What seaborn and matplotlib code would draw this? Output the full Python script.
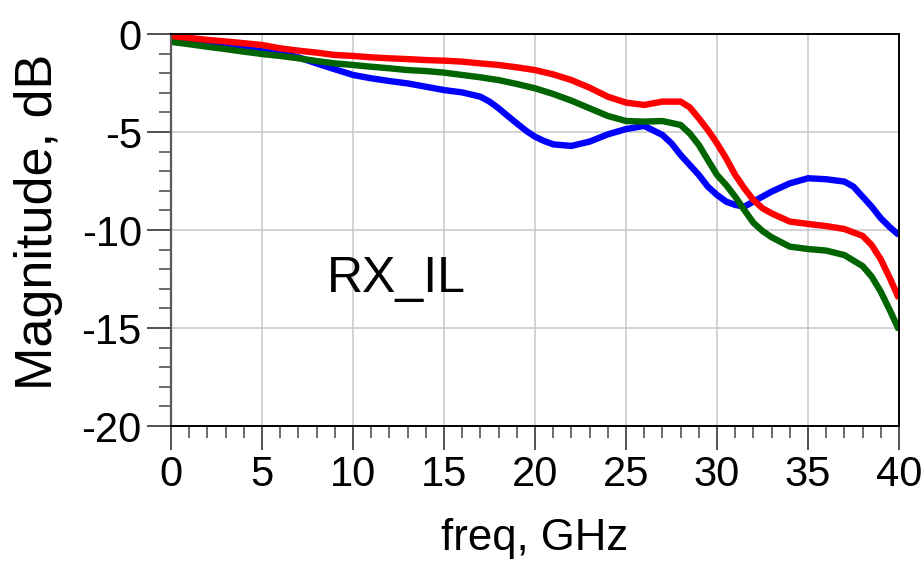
import numpy as np
import pandas as pd
import matplotlib
matplotlib.use("Agg")
import matplotlib.pyplot as plt
from matplotlib.ticker import MultipleLocator
import seaborn as sns

# Insertion loss of the three RX channels (dB) versus frequency (GHz)
freq_red = [0, 1, 2, 3, 4, 5, 6, 7, 8, 9, 10, 11, 12, 13, 14, 15, 16, 17, 18, 19, 20,
            21, 22, 23, 24, 25, 26, 27, 28, 28.5, 29, 29.5, 30, 30.5, 31, 31.5, 32, 32.5,
            33, 34, 35, 36, 37, 38, 38.5, 39, 39.5, 40]
il_red = [-0.10, -0.20, -0.30, -0.38, -0.47, -0.56, -0.73, -0.85, -0.95, -1.07, -1.12,
          -1.19, -1.24, -1.28, -1.33, -1.36, -1.41, -1.50, -1.58, -1.70, -1.84,
          -2.06, -2.35, -2.74, -3.20, -3.50, -3.62, -3.45, -3.45, -3.74, -4.30, -4.90,
          -5.58, -6.34, -7.19, -7.87, -8.47, -8.89,
          -9.15, -9.57, -9.69, -9.80, -9.95, -10.30, -10.77, -11.50, -12.46, -13.50]

freq_green = [0, 1, 2, 3, 4, 5, 6, 7, 8, 9, 10, 11, 12, 13, 14, 15, 16, 17, 18, 19, 20,
              21, 22, 23, 24, 25, 26, 27, 28, 28.5, 29, 29.5, 30, 30.5, 31, 31.5, 32, 32.5,
              33, 34, 35, 36, 37, 38, 38.5, 39, 39.5, 40]
il_green = [-0.40, -0.52, -0.65, -0.77, -0.90, -1.02, -1.12, -1.24, -1.38, -1.50, -1.58,
            -1.67, -1.75, -1.84, -1.89, -1.97, -2.09, -2.21, -2.35, -2.55, -2.77,
            -3.06, -3.40, -3.79, -4.18, -4.44, -4.47, -4.44, -4.64, -5.07, -5.66, -6.43,
            -7.19, -7.70, -8.30, -8.98, -9.63, -10.05,
            -10.37, -10.85, -10.97, -11.05, -11.28, -11.84, -12.38, -13.15, -14.10, -15.10]

freq_blue = [0, 1, 2, 3, 4, 5, 6, 7, 8, 9, 10, 11, 12, 13, 14, 15, 16, 17, 17.5, 18, 18.5,
             19, 19.5, 20, 20.5, 21, 22, 23, 24, 25, 26, 27, 27.5, 28, 28.5, 29, 29.5, 30,
             30.5, 31, 31.5, 32, 33, 34, 35, 36, 37, 37.5, 38, 38.5, 39, 39.5, 40]
il_blue = [-0.35, -0.42, -0.52, -0.62, -0.74, -0.88, -0.99, -1.19, -1.50, -1.80, -2.09,
           -2.26, -2.40, -2.52, -2.69, -2.86, -2.98, -3.20, -3.45, -3.79, -4.18,
           -4.56, -4.93, -5.24, -5.46, -5.63, -5.71, -5.49, -5.12, -4.85, -4.69, -5.15,
           -5.58, -6.17, -6.68, -7.19, -7.79, -8.21,
           -8.55, -8.72, -8.81, -8.55, -8.04, -7.62, -7.36, -7.41, -7.53, -7.79,
           -8.30, -8.81, -9.40, -9.86, -10.26]

series_names = ["ch1", "ch2", "ch3"]
series_colors = ["#0000ff", "#006400", "#ff0000"]

x_ticks = [0, 5, 10, 15, 20, 25, 30, 35, 40]
y_ticks = [0, -5, -10, -15, -20]

df = pd.concat([
    pd.DataFrame({"freq": freq_blue, "mag": il_blue, "trace": "ch1"}),
    pd.DataFrame({"freq": freq_green, "mag": il_green, "trace": "ch2"}),
    pd.DataFrame({"freq": freq_red, "mag": il_red, "trace": "ch3"}),
], ignore_index=True)

sns.set_style("ticks")
plt.rcParams["font.family"] = ["Liberation Sans", "DejaVu Sans"]
plt.rcParams["axes.unicode_minus"] = False
plt.rcParams["text.color"] = "black"
plt.rcParams["axes.labelcolor"] = "black"
plt.rcParams["xtick.labelcolor"] = "black"
plt.rcParams["ytick.labelcolor"] = "black"

fig = plt.figure(figsize=(9.24, 5.69), dpi=100)
ax = fig.add_axes([171 / 924, 1 - 426 / 569, 728 / 924, 392 / 569])

sns.lineplot(data=df, x="freq", y="mag", hue="trace", hue_order=series_names,
             palette=series_colors, linewidth=4.6, legend=False, ax=ax,
             sort=True, solid_capstyle="butt", solid_joinstyle="round")

ax.set_xlim(0, 40)
ax.set_ylim(-20, 0)
ax.set_xticks(x_ticks)
ax.set_yticks(y_ticks)
ax.set_xticklabels([str(t) for t in x_ticks])
ax.set_yticklabels([str(t) for t in y_ticks])
ax.xaxis.set_minor_locator(MultipleLocator(1))
ax.yaxis.set_minor_locator(MultipleLocator(1))

ax.grid(True, which="major", color="#c8c8c8", linewidth=1.1)
ax.set_axisbelow(True)

ax.tick_params(which="major", direction="out", length=17, width=1.3,
               color="#444444", labelsize=30, pad=4, labelcolor="black")
ax.tick_params(which="minor", direction="out", length=8.5, width=1.1,
               color="#444444")

for side in ["top", "right", "bottom"]:
    ax.spines[side].set_color("#000000")
    ax.spines[side].set_linewidth(1.4)
ax.spines["left"].set_color("#5a5a5a")
ax.spines["left"].set_linewidth(1.6)

ax.set_xlabel("freq, GHz", fontsize=31.5, color="black")
ax.set_ylabel("Magnitude, dB", fontsize=37.5, color="black")
ax.xaxis.set_label_coords(0.5, -0.235)
ax.yaxis.set_label_coords(-0.148, 0.52)

ax.text(8.57, -13.16, "RX_IL", fontsize=36, ha="left", va="baseline", color="black")

fig.savefig("out.png", dpi=100)
